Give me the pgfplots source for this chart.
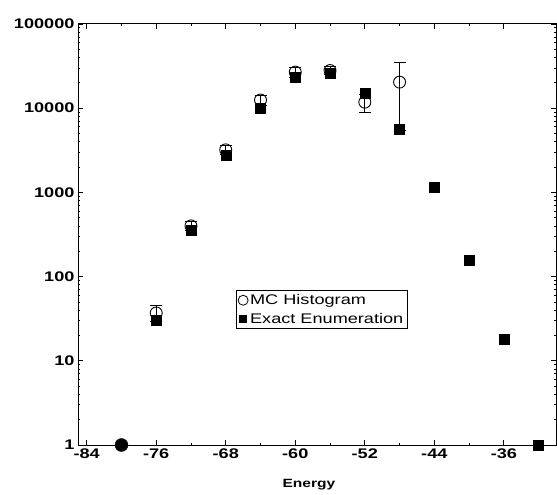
\documentclass[border=0pt]{standalone}
\usepackage{fontspec}
\setmainfont{Liberation Sans}[FakeStretch=1.3]
\usepackage{pgfplots}
\pgfplotsset{compat=1.18}
\begin{document}
\begin{tikzpicture}
\begin{axis}[
  scale only axis, width=478bp, height=421bp,
  xmin=-85, xmax=-30, ymin=1, ymax=100000, ymode=log,
  xtick={-84,-76,-68,-60,-52,-44,-36},
  xticklabels={-84,-76,-68,-60,-52,-44,-36},
  minor x tick num=1,
  ytick={1,10,100,1000,10000,100000},
  yticklabels={1,10,100,1000,10000,100000},
  tick align=inside,
  major tick length=5bp, minor tick length=2.5bp,
  axis line style={line width=1pt},
  tick style={line width=0.8pt, black},
  /pgf/number format/assume math mode=true,
  tick label style={font=\fontsize{14}{16}\selectfont\bfseries},
  xlabel={Energy},
  xlabel style={font=\fontsize{12}{14}\selectfont\bfseries, at={(axis description cs:0.483,-0.095)}, anchor=center},
  legend style={at={(0.33,0.368)}, anchor=north west, font=\fontsize{14}{16}\selectfont, draw=black, line width=0.8pt, inner xsep=2pt, inner ysep=2pt, row sep=3pt, cells={anchor=west}},
  legend image code/.code={\draw[#1] plot coordinates {(0.3cm,0cm)};},
]
\addlegendimage{only marks, mark=o, mark size=5bp, black, line width=0.8pt}
\addlegendentry{MC Histogram}
\addlegendimage{only marks, mark=square*, mark size=3.5bp, black}
\addlegendentry{Exact Enumeration}
\addplot[only marks, mark=o, mark size=6bp, black, line width=0.9pt, forget plot,
  error bars/.cd, y dir=both, y explicit,
  error mark options={rotate=90, mark size=6bp, line width=0.8pt, black},
  error bar style={line width=0.8pt, black}]
coordinates {
  (-76,37) +- (0,8)
  (-72,400) +- (0,50)
  (-68,3200) +- (0,400)
  (-64,12500) +- (0,1800)
  (-60,26800) +- (0,3800)
  (-56,28000) +- (0,3000)
  (-52,11800) +- (0,2900)
  (-48,20400) +- (0,15000)
};
\addplot[only marks, mark=square*, mark size=5bp, black, forget plot]
coordinates {
  (-76,30) (-72,355) (-68,2770) (-64,10000) (-60,23400) (-56,26000)
  (-52,15000) (-48,5600) (-44,1150) (-40,155) (-36,18) (-32,1)
};
\addplot[only marks, mark=*, mark size=6.5bp, black, forget plot]
coordinates { (-80,1) };
\end{axis}
\pgfresetboundingbox
\path[use as bounding box] (-78bp,-50bp) rectangle (479bp,445bp);
\end{tikzpicture}
\end{document}
